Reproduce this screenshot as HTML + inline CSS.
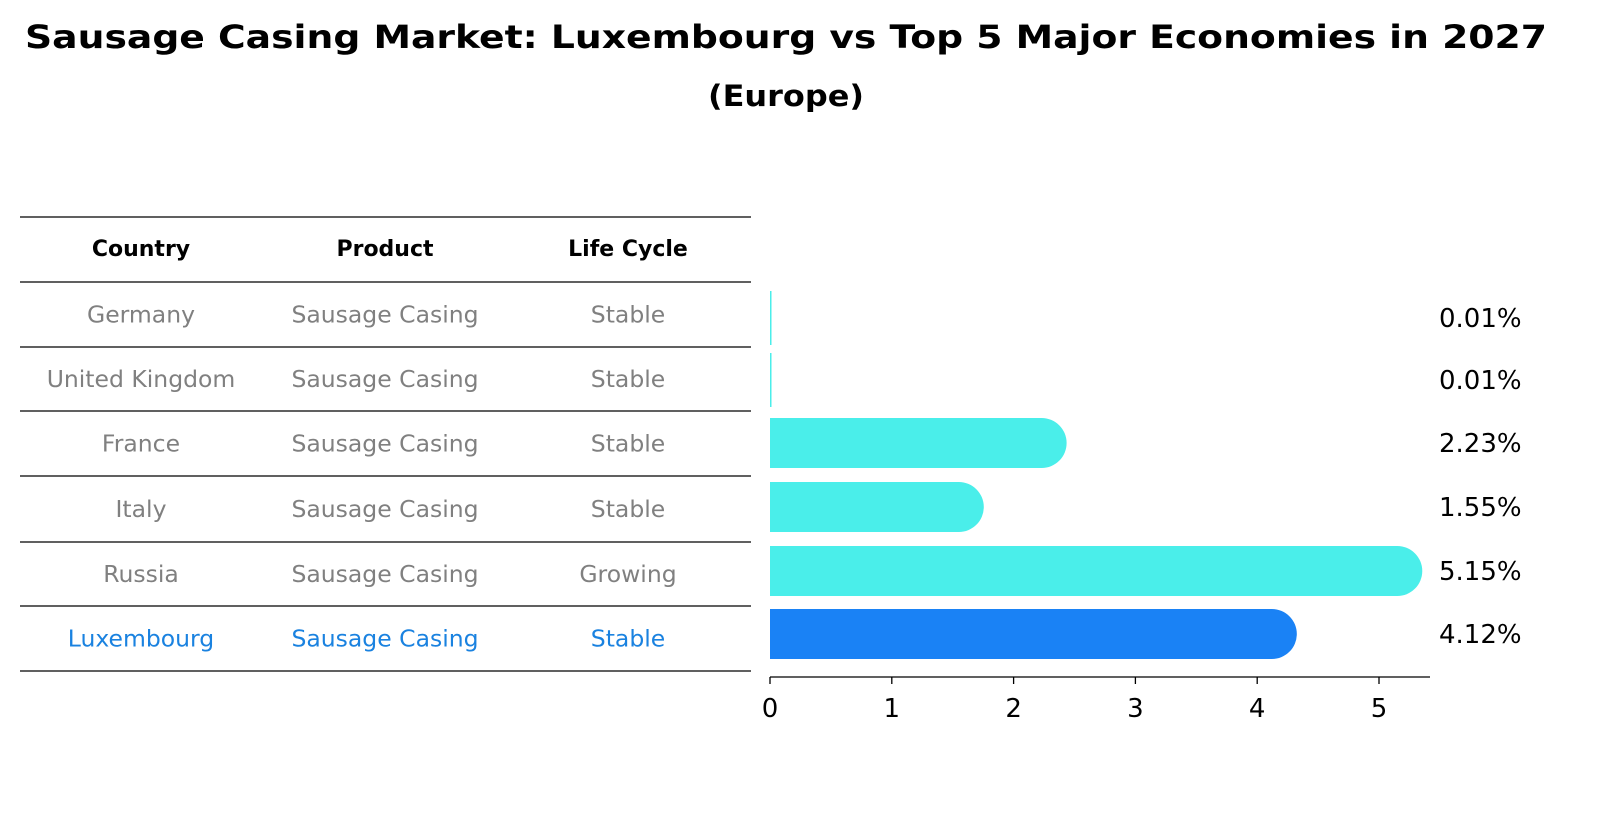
<!DOCTYPE html>
<html><head><meta charset="utf-8"><style>
body{margin:0;background:#fff;font-family:"Liberation Sans","DejaVu Sans",sans-serif;}
#wrap{position:relative;width:1611px;height:823px;overflow:hidden;}
</style></head><body>
<div id="wrap">
<svg id="svg" width="1611" height="823" style="font-family:'DejaVu Sans','Liberation Sans',sans-serif">
<text x="786" y="48" text-anchor="middle" font-size="32" font-weight="bold" textLength="1522" lengthAdjust="spacingAndGlyphs">Sausage Casing Market: Luxembourg vs Top 5 Major Economies in 2027</text>
<text x="786" y="106" text-anchor="middle" font-size="29" font-weight="bold" textLength="156" lengthAdjust="spacingAndGlyphs">(Europe)</text>
<g id="table"></g>
<g id="bars"></g>
</svg>
</div>
<script>
const countries=["Germany","United Kingdom","France","Italy","Russia","Luxembourg"];
const products=["Sausage Casing","Sausage Casing","Sausage Casing","Sausage Casing","Sausage Casing","Sausage Casing"];
const lifeCycles=["Stable","Stable","Stable","Stable","Growing","Stable"];
const values=[0.01,0.01,2.23,1.55,5.15,4.12];
const valueLabels=["0.01%","0.01%","2.23%","1.55%","5.15%","4.12%"];
const xTicks=[0,1,2,3,4,5];
const NS="http://www.w3.org/2000/svg";
function mk(t,a,p){const e=document.createElementNS(NS,t);for(const k in a)e.setAttribute(k,a[k]);p.appendChild(e);return e;}
const tbl=document.getElementById('table'),bars=document.getElementById('bars');
const x=v=>770+v*121.8;
const lines=[217,282,347,411,476,542,606,671];
lines.forEach((y,i)=>{const l=mk('line',{x1:20,x2:751,y1:y,y2:y,stroke:'#000','stroke-width':1.2},tbl);

});
const cols=[141,385,628];
["Country","Product","Life Cycle"].forEach((h,j)=>{const t=mk('text',{x:cols[j],y:256,'text-anchor':'middle','font-size':22,'font-weight':'bold'},tbl);t.textContent=h;

});
countries.forEach((c,i)=>{const y=(lines[i+1]+lines[i+2])/2+8;const col=i==5?'#1a82e0':'#808080';
[c,products[i],lifeCycles[i]].forEach((s,j)=>{const t=mk('text',{x:cols[j],y:y,'text-anchor':'middle','font-size':23.5,fill:col},tbl);t.textContent=s;

});});
const h=50,r=25;
const rowC=[318,380,443,507,571,634];
values.forEach((v,i)=>{const yc=rowC[i];
const w=x(v)-x(0);const col=i==5?'#1a82f5':'#4aeeea';
let e;
if(w<2){e=mk('rect',{x:770,y:yc-27,width:1.5,height:54,fill:col},bars);}
else{e=mk('path',{d:`M770 ${yc-h/2} H${x(v)} A${r} ${r} 0 0 1 ${x(v)} ${yc+h/2} H770 Z`,fill:col},bars);}


const t=mk('text',{x:1439,y:yc+9,'font-size':26},bars);t.textContent=valueLabels[i];

});
const ax=mk('line',{x1:770,x2:1430,y1:677,y2:677,stroke:'#000','stroke-width':1.3},bars);


xTicks.forEach(v=>{const l=mk('line',{x1:x(v),x2:x(v),y1:677,y2:684,stroke:'#000','stroke-width':1.3},bars);


const t=mk('text',{x:x(v),y:717,'text-anchor':'middle','font-size':26},bars);t.textContent=v;

});
</script>
</body></html>
